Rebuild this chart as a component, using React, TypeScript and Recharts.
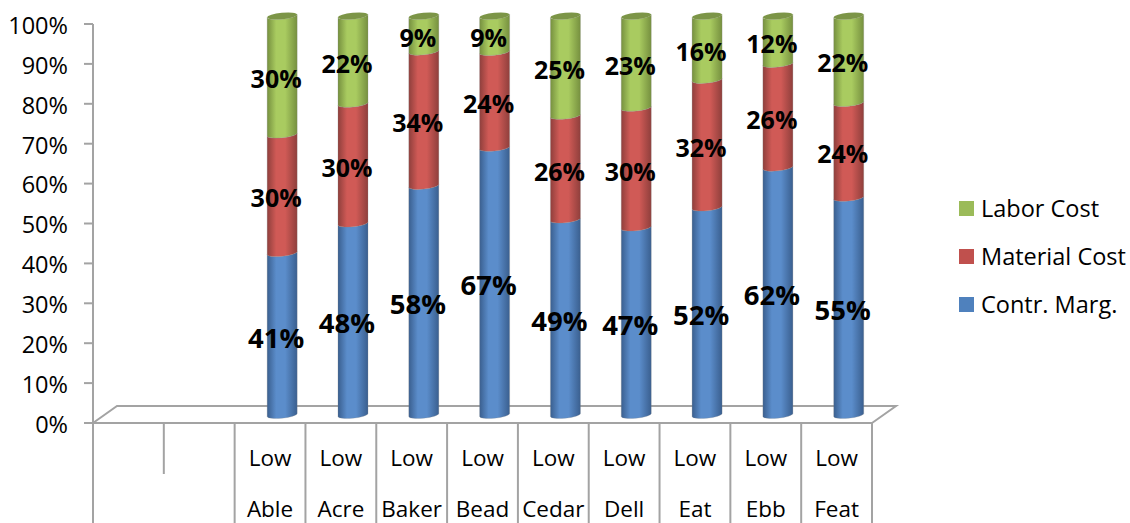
import { Bar, BarChart, LabelList, Legend, XAxis, YAxis } from "recharts";

const groups = ["", "", "Low", "Low", "Low", "Low", "Low", "Low", "Low", "Low", "Low"];
const names = ["", "", "Able", "Acre", "Baker", "Bead", "Cedar", "Dell", "Eat", "Ebb", "Feat"];
const contrMarg = [0, 0, 41, 48, 58, 67, 49, 47, 52, 62, 55];
const materialCost = [0, 0, 30, 30, 34, 24, 26, 30, 32, 26, 24];
const laborCost = [0, 0, 30, 22, 9, 9, 25, 23, 16, 12, 22];
const yTicks = [0, 0.1, 0.2, 0.3, 0.4, 0.5, 0.6, 0.7, 0.8, 0.9, 1];

const data = names.map((name, i) => ({
  key: i,
  name,
  group: groups[i],
  contr: contrMarg[i],
  material: materialCost[i],
  labor: laborCost[i],
}));

const W = 1130;
const H = 523;
const axisWidth = 93;
const axisHeight = 100;
const plotRight = 872;
const legendWidth = 171;
const margin = { top: 24, right: W - plotRight - legendWidth, bottom: 0, left: 0 };
const plotBottom = H - axisHeight;
const slot = (plotRight - axisWidth) / names.length;
const font = "'Open Sans', sans-serif";
const axisColor = "#a3a3a3";
// the bars stand in the middle of the 3d floor
const depth = { x: 12, y: -8 };

const colors = {
  contr: { id: "gradContr", edge: "#3a5f8f", mid: "#5b8dcb", flat: "#4f81bd", cap: "#3f6797" },
  material: { id: "gradMaterial", edge: "#8f3f3c", mid: "#d05a56", flat: "#c0504d", cap: "#99403e" },
  labor: { id: "gradLabor", edge: "#76903f", mid: "#a9cb60", flat: "#9bbb59", cap: "#7c9547" },
};

const Cylinder = ({ x, y, width, height, color, cap }: any) => {
  if (!height || height <= 0) return null;
  const left = x + depth.x;
  const right = left + width;
  const top = y + depth.y;
  const bottom = top + height;
  const rx = width / 2;
  const ry = 3.2;
  const tilt = 1.5;
  const body = `M${left},${top + tilt} A${rx},${ry} -6 0 0 ${right},${top - tilt} L${right},${bottom - tilt} A${rx},${ry} -6 0 1 ${left},${bottom + tilt} Z`;
  return (
    <g>
      <path d={body} fill={`url(#${color.id})`} stroke="#888" strokeOpacity={0.25} strokeWidth={1} />
      {cap && (
        <ellipse cx={left + rx} cy={top} rx={rx} ry={ry} transform={`rotate(-6 ${left + rx} ${top})`} fill={color.cap} />
      )}
    </g>
  );
};

const BarLabel = ({ x, y, width, height, value, size }: any) => {
  if (!value) return null;
  return (
    <text
      x={x + width / 2 + 6}
      y={y + height / 2 - 5}
      textAnchor="middle"
      dominantBaseline="central"
      fontFamily={font}
      fontWeight={700}
      fontSize={size}
      fill="#000"
    >
      {value}%
    </text>
  );
};

const CategoryTick = ({ x, payload, index }: any) => {
  const row = data[index] ?? data[0];
  const lineEnd = index === 1 ? 474 : H;
  const left = x - slot / 2;
  return (
    <g>
      <line x1={left} x2={left} y1={plotBottom} y2={lineEnd} stroke={axisColor} strokeWidth={2} />
      {index === names.length - 1 && (
        <line x1={left + slot} x2={left + slot} y1={plotBottom} y2={H} stroke={axisColor} strokeWidth={2} />
      )}
      <text x={x} y={457.5} textAnchor="middle" dominantBaseline="central" fontFamily={font} fontSize={22.5} fill="#000">
        {row.group}
      </text>
      <text x={x} y={508.5} textAnchor="middle" dominantBaseline="central" fontFamily={font} fontSize={22.5} fill="#000">
        {payload.value}
      </text>
    </g>
  );
};

const Floor = () => (
  <polyline
    points={`${axisWidth},${plotBottom} ${axisWidth + 24},${plotBottom - 17} ${plotRight + 24},${plotBottom - 17} ${plotRight},${plotBottom}`}
    fill="none"
    stroke={axisColor}
    strokeWidth={2}
  />
);

const legendRows = [
  { label: "Labor Cost", color: colors.labor.flat },
  { label: "Material Cost", color: colors.material.flat },
  { label: "Contr. Marg.", color: colors.contr.flat },
];

const LegendBox = () => (
  <svg width={legendWidth} height={140} style={{ display: "block" }}>
    {legendRows.map((row, i) => (
      <g key={row.label} transform={`translate(0 ${10 + i * 48})`}>
        <rect x={0} y={0} width={15} height={15} fill={row.color} />
        <text x={22} y={6.5} dominantBaseline="central" fontFamily={font} fontSize={23.5} fill="#000">
          {row.label}
        </text>
      </g>
    ))}
  </svg>
);

export default function App() {
  return (
    <div style={{ position: "absolute", left: 0, top: 0, width: W, height: H, overflow: "hidden", background: "#fff" }}>
      <BarChart width={W} height={H} data={data} margin={margin} stackOffset="expand" barCategoryGap="29%">
        <defs>
          {Object.values(colors).map((c) => (
            <linearGradient key={c.id} id={c.id} x1="0" y1="0" x2="1" y2="0">
              <stop offset="0%" stopColor={c.edge} />
              <stop offset="30%" stopColor={c.mid} />
              <stop offset="60%" stopColor={c.mid} />
              <stop offset="100%" stopColor={c.edge} />
            </linearGradient>
          ))}
        </defs>
        <Floor />
        <XAxis
          dataKey="name"
          interval={0}
          axisLine={{ stroke: axisColor, strokeWidth: 2 }}
          tickLine={false}
          height={axisHeight}
          tick={<CategoryTick />}
        />
        <YAxis
          domain={[0, 1]}
          ticks={yTicks}
          width={axisWidth}
          axisLine={{ stroke: axisColor, strokeWidth: 2 }}
          tickLine={{ stroke: axisColor, strokeWidth: 2 }}
          tickSize={9}
          tickMargin={16}
          tickFormatter={(v) => `${Math.round(v * 100)}%`}
          tick={{ fill: "#000", fontFamily: font, fontSize: 23.5, dy: 1.5 }}
        />
        <Legend
          layout="vertical"
          align="right"
          verticalAlign="top"
          wrapperStyle={{ position: "absolute", left: 959, top: 191, right: "auto", width: legendWidth }}
          content={<LegendBox />}
        />
        <Bar
          dataKey="contr"
          stackId="a"
          isAnimationActive={false}
          shape={(p: any) => <Cylinder {...p} color={colors.contr} />}
        >
          <LabelList dataKey="contr" content={<BarLabel size={27.5} />} />
        </Bar>
        <Bar
          dataKey="material"
          stackId="a"
          isAnimationActive={false}
          shape={(p: any) => <Cylinder {...p} color={colors.material} />}
        >
          <LabelList dataKey="material" content={<BarLabel size={25} />} />
        </Bar>
        <Bar
          dataKey="labor"
          stackId="a"
          isAnimationActive={false}
          shape={(p: any) => <Cylinder {...p} color={colors.labor} cap />}
        >
          <LabelList dataKey="labor" content={<BarLabel size={25} />} />
        </Bar>
      </BarChart>
    </div>
  );
}
